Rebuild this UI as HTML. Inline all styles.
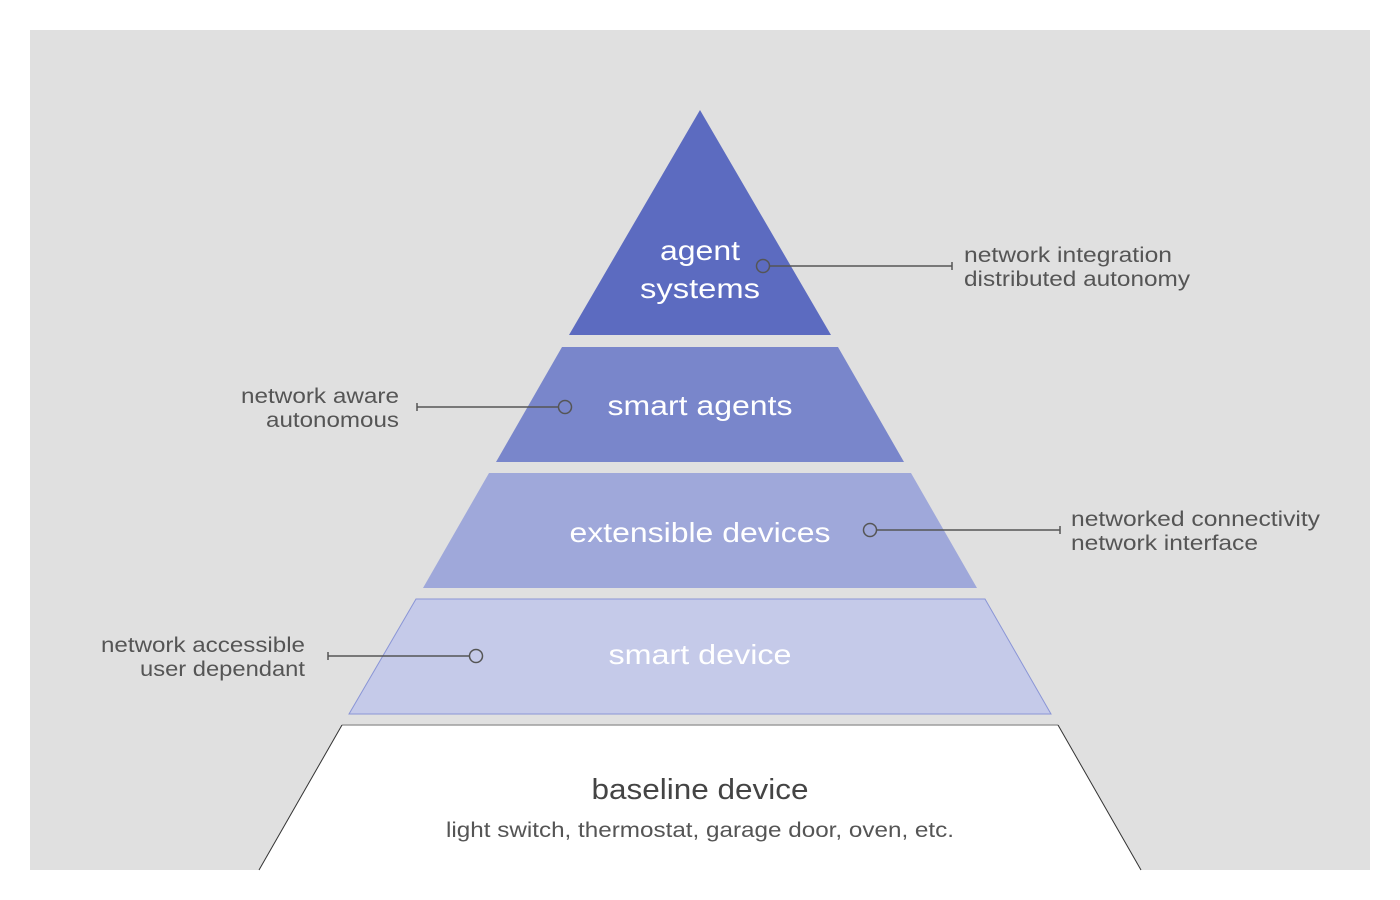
<!DOCTYPE html>
<html><head><meta charset="utf-8"><style>
html,body{margin:0;padding:0;background:#fff;}
svg{display:block;font-family:"Liberation Sans",sans-serif;}
</style></head><body>
<svg width="1400" height="900" viewBox="0 0 1400 900" xmlns="http://www.w3.org/2000/svg">
<rect x="30" y="30" width="1340" height="840" fill="#e0e0e0"/>
<polygon points="342,725 1058,725 1141,870 259,870" fill="#ffffff"/>
<line x1="342" y1="725" x2="1058" y2="725" stroke="#9e9e9e" stroke-width="1.5"/>
<line x1="342" y1="725" x2="259" y2="870" stroke="#333" stroke-width="1"/>
<line x1="1058" y1="725" x2="1141" y2="870" stroke="#333" stroke-width="1"/>
<polygon points="700,110 831,335 569,335" fill="#5c6bc0"/>
<polygon points="562,347 838,347 904,462 496,462" fill="#7986cb"/>
<polygon points="489,473 911,473 977,588 423,588" fill="#9fa8da"/>
<polygon points="416,599 985,599 1051,714 349,714" fill="#c5cae9" stroke="#8a95d6" stroke-width="1"/>
<g stroke="#555" stroke-width="1.5" fill="none">
<line x1="770" y1="266" x2="952" y2="266"/><line x1="952" y1="262" x2="952" y2="270"/>
<circle cx="763" cy="266" r="6.5"/>
<line x1="417" y1="407" x2="558" y2="407"/><line x1="417" y1="403" x2="417" y2="411"/>
<circle cx="565" cy="407" r="6.5"/>
<line x1="877" y1="530" x2="1060" y2="530"/><line x1="1060" y1="526" x2="1060" y2="534"/>
<circle cx="870" cy="530" r="6.5"/>
<line x1="328" y1="656" x2="469" y2="656"/><line x1="328" y1="652" x2="328" y2="660"/>
<circle cx="476" cy="656" r="6.5"/>
</g>
<g fill="#fff" font-size="28" text-anchor="middle" lengthAdjust="spacingAndGlyphs">
<text x="700" y="260" textLength="80" lengthAdjust="spacingAndGlyphs">agent</text>
<text x="700" y="298" textLength="120" lengthAdjust="spacingAndGlyphs">systems</text>
<text x="700" y="415" textLength="185" lengthAdjust="spacingAndGlyphs">smart agents</text>
<text x="700" y="542" textLength="261" lengthAdjust="spacingAndGlyphs">extensible devices</text>
<text x="700" y="664" textLength="183" lengthAdjust="spacingAndGlyphs">smart device</text>
</g>
<text x="700" y="799" font-size="29" fill="#444" text-anchor="middle" textLength="217" lengthAdjust="spacingAndGlyphs">baseline device</text>
<text x="700" y="837" font-size="21" fill="#555" text-anchor="middle" textLength="508" lengthAdjust="spacingAndGlyphs">light switch, thermostat, garage door, oven, etc.</text>
<g fill="#555" font-size="21">
<text x="964" y="262" textLength="208" lengthAdjust="spacingAndGlyphs">network integration</text>
<text x="964" y="286" textLength="226" lengthAdjust="spacingAndGlyphs">distributed autonomy</text>
<text x="1071" y="526" textLength="249" lengthAdjust="spacingAndGlyphs">networked connectivity</text>
<text x="1071" y="550" textLength="187" lengthAdjust="spacingAndGlyphs">network interface</text>
<text x="241" y="403" textLength="158" lengthAdjust="spacingAndGlyphs">network aware</text>
<text x="266" y="427" textLength="133" lengthAdjust="spacingAndGlyphs">autonomous</text>
<text x="101" y="652" textLength="204" lengthAdjust="spacingAndGlyphs">network accessible</text>
<text x="140" y="676" textLength="165" lengthAdjust="spacingAndGlyphs">user dependant</text>
</g>
</svg>
</body></html>
